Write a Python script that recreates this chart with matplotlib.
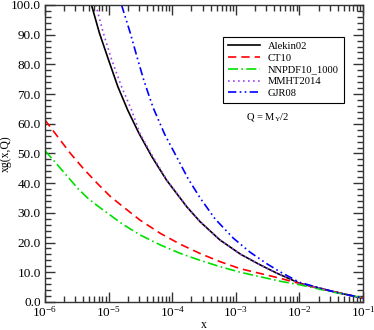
#!/usr/bin/env python3

"""
Gluon distributions xg(x,Q) at Q = M_Y/2 for several PDF sets.
"""

import matplotlib
matplotlib.use('Agg')
import matplotlib.pyplot as plt
from matplotlib.ticker import FixedLocator, MultipleLocator, FuncFormatter

# values
x_alekin = [5.4e-6, 7.2e-6, 1.0e-5, 1.4e-5, 2.0e-5, 3.0e-5, 4.8e-5, 8.1e-5,
            1.7e-4, 2.75e-4, 5.6e-4, 1.2e-3, 2.4e-3, 4.5e-3, 1e-2, 3.4e-2, 1e-1]
y_alekin = [100, 90.5, 81.5, 72.5, 64.6, 56.8, 48.9, 41.1,
            32.0, 27.0, 20.9, 16.0, 12.5, 9.6, 6.3, 3.5, 1.2]

x_ct10 = [1e-6, 1.66e-6, 2.5e-6, 4.1e-6, 6.6e-6, 1.07e-5, 1.66e-5, 3.1e-5, 6.5e-5,
          1.32e-4, 2.75e-4, 5.6e-4, 1.17e-3, 2.4e-3, 4.9e-3, 1e-2, 3.2e-2, 1e-1]
y_ct10 = [61.3, 55.1, 50.1, 44.7, 40.0, 35.5, 32.2, 27.6, 23.1,
          19.5, 16.3, 13.6, 11.2, 9.6, 8.0, 6.2, 3.6, 1.3]

x_nnpdf = [1e-6, 1.66e-6, 2.4e-6, 3.4e-6, 4.9e-6, 7.6e-6, 1.15e-5, 1.66e-5, 3.1e-5,
           6.5e-5, 1.32e-4, 2.75e-4, 5.6e-4, 1.17e-3, 2.4e-3, 4.9e-3, 1e-2, 3.2e-2, 1e-1]
y_nnpdf = [51.0, 45.6, 41.6, 37.9, 34.6, 31.5, 28.7, 26.2, 22.6,
           19.2, 16.4, 14.0, 11.9, 10.0, 8.5, 7.0, 5.8, 3.4, 1.4]

x_mmht = [6.3e-6, 8.3e-6, 1.12e-5, 1.6e-5, 2.3e-5, 3.1e-5, 4.8e-5, 8.1e-5,
          1.7e-4, 2.75e-4, 5.6e-4, 1.2e-3, 2.4e-3, 4.5e-3, 1e-2, 3.4e-2, 1e-1]
y_mmht = [100, 90.5, 81.5, 72.5, 64.6, 56.8, 49.5, 41.3,
          32.1, 27.0, 20.9, 16.0, 12.5, 9.6, 6.3, 3.5, 1.2]

x_gjr = [1.6e-5, 2.2e-5, 2.8e-5, 3.6e-5, 5.0e-5, 7.6e-5, 1.17e-4, 1.78e-4,
         2.75e-4, 4.7e-4, 9.1e-4, 1.66e-3, 3.1e-3, 4.9e-3, 1e-2, 3.2e-2, 1e-1]
y_gjr = [100, 90.5, 82.5, 74.5, 65.5, 56.5, 48.9, 41.5,
         35.0, 28.0, 21.5, 16.8, 12.8, 10.2, 6.6, 3.6, 1.3]

x_decades = [1e-6, 1e-5, 1e-4, 1e-3, 1e-2, 1e-1]
x_exponents = [-6, -5, -4, -3, -2, -1]

plt.rcParams['font.family'] = ['Liberation Serif', 'DejaVu Serif']
plt.rcParams['mathtext.fontset'] = 'custom'
plt.rcParams['mathtext.rm'] = 'Liberation Serif'
plt.rcParams['mathtext.it'] = 'Liberation Serif:italic'

fig = plt.figure(figsize=(3.74, 3.30), dpi=100)
ax = fig.add_axes([0.120, 0.085, 0.851, 0.900])

ax.plot(x_alekin, y_alekin, color='black', lw=1.2, label='Alekin02')
ax.plot(x_ct10, y_ct10, color='#ff0000', lw=1.2, ls=(0, (5, 3)), label='CT10')
ax.plot(x_nnpdf, y_nnpdf, color='#00e000', lw=1.2, ls=(0, (6, 2, 1, 2)),
        label='NNPDF10_1000')
ax.plot(x_mmht, y_mmht, color='#a040f0', lw=1.2, ls=(0, (1, 2)),
        label='MMHT2014')
ax.plot(x_gjr, y_gjr, color='#0000ff', lw=1.2, ls=(0, (5, 2, 1, 2, 1, 2)),
        label='GJR08')

ax.set_xscale('log')
ax.set_xlim(1e-6, 1e-1)
ax.set_ylim(0, 100)

ax.xaxis.set_major_locator(FixedLocator(x_decades))
ax.xaxis.set_major_formatter(FuncFormatter(
    lambda v, pos: r'10$^{%d}$' % x_exponents[pos] if pos is not None and pos < len(x_exponents) else ''))
ax.yaxis.set_major_locator(MultipleLocator(10))
ax.yaxis.set_minor_locator(MultipleLocator(2))
ax.yaxis.set_major_formatter(FuncFormatter(lambda v, pos: '%.1f' % v))

ax.tick_params(which='both', direction='in', top=True, right=True,
               labelsize=9.5, width=1.0, color='#333333')
ax.tick_params(which='major', length=7)
ax.tick_params(axis='x', which='major', pad=2)
ax.tick_params(axis='y', which='major', pad=3)
ax.tick_params(which='minor', length=4)
for s in ax.spines.values():
    s.set_linewidth(1.0)
    s.set_color('#333333')

ax.set_xlabel('x', fontsize=8.5)
ax.set_ylabel('xg(x,Q)', fontsize=8.5)
ax.xaxis.set_label_coords(0.5, -0.058)
ax.yaxis.set_label_coords(-0.104, 0.5)

leg = ax.legend(loc='upper left', bbox_to_anchor=(0.56, 0.892), fontsize=7.6,
                frameon=True, fancybox=False, framealpha=1, borderpad=0.45,
                labelspacing=0.22, handlelength=3.0, handletextpad=0.8,
                borderaxespad=0)
leg.get_frame().set_edgecolor('black')
leg.get_frame().set_linewidth(0.8)

ax.text(0.70, 0.623, r'Q = M$_\Upsilon$/2', transform=ax.transAxes,
        ha='center', va='center', fontsize=7.6, zorder=5)

fig.savefig('out.png', dpi=100)
